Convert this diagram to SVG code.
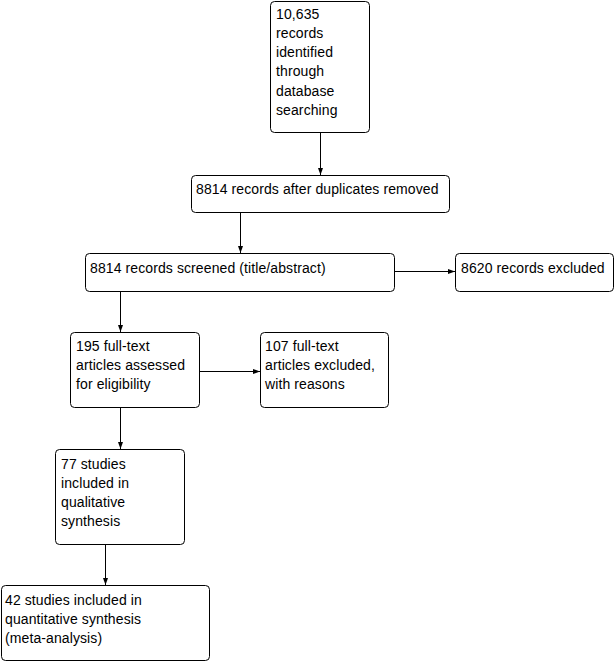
<svg xmlns="http://www.w3.org/2000/svg" width="615" height="662" viewBox="0 0 615 662">
<style>
.b{fill:#fff;stroke:#000;stroke-width:1}
.t{font-family:"Liberation Sans",Arial,sans-serif;font-size:14px;letter-spacing:0.1px;fill:#000}
.c{stroke:#000;stroke-width:1;fill:none;marker-end:url(#ah)}
</style>
<defs>
<marker id="ah" markerWidth="7" markerHeight="6" refX="7" refY="3" orient="auto" markerUnits="userSpaceOnUse">
<path d="M0,0.5 L7,3 L0,5.5 Z" fill="#000"/>
</marker>
</defs>
<rect width="615" height="662" fill="#fff"/>
<g id="connectors">
<line class="c" x1="320.5" y1="132" x2="320.5" y2="175"/>
<line class="c" x1="240.5" y1="212" x2="240.5" y2="253"/>
<line class="c" x1="395" y1="271.5" x2="455" y2="271.5"/>
<line class="c" x1="120.5" y1="291" x2="120.5" y2="332"/>
<line class="c" x1="200" y1="371.5" x2="260" y2="371.5"/>
<line class="c" x1="120.5" y1="407" x2="120.5" y2="449"/>
<line class="c" x1="105.5" y1="544" x2="105.5" y2="585"/>
</g>
<g id="n1">
<rect class="b" x="270.5" y="1.5" width="99" height="131" rx="4"/>
<text class="t" x="276" y="19">10,635</text>
<text class="t" x="276" y="38">records</text>
<text class="t" x="276" y="57">identified</text>
<text class="t" x="276" y="76">through</text>
<text class="t" x="276" y="96">database</text>
<text class="t" x="276" y="115">searching</text>
</g>
<g id="n2">
<rect class="b" x="191.5" y="175.5" width="258" height="37" rx="4"/>
<text class="t" x="196" y="194">8814 records after duplicates removed</text>
</g>
<g id="n3">
<rect class="b" x="85.5" y="253.5" width="309" height="38" rx="4"/>
<text class="t" x="90" y="273">8814 records screened (title/abstract)</text>
</g>
<g id="n4">
<rect class="b" x="455.5" y="253.5" width="158" height="38" rx="4"/>
<text class="t" x="461" y="273">8620 records excluded</text>
</g>
<g id="n5">
<rect class="b" x="70.5" y="332.5" width="129" height="75" rx="4"/>
<text class="t" x="76" y="351">195 full-text</text>
<text class="t" x="76" y="370">articles assessed</text>
<text class="t" x="76" y="389">for eligibility</text>
</g>
<g id="n6">
<rect class="b" x="260.5" y="332.5" width="128" height="75" rx="4"/>
<text class="t" x="265" y="351">107 full-text</text>
<text class="t" x="265" y="370">articles excluded,</text>
<text class="t" x="265" y="389">with reasons</text>
</g>
<g id="n7">
<rect class="b" x="55.5" y="449.5" width="129" height="95" rx="4"/>
<text class="t" x="61" y="469">77 studies</text>
<text class="t" x="61" y="488">included in</text>
<text class="t" x="61" y="507">qualitative</text>
<text class="t" x="61" y="526">synthesis</text>
</g>
<g id="n8">
<rect class="b" x="1.5" y="585.5" width="208" height="75" rx="4"/>
<text class="t" x="5" y="605">42 studies included in</text>
<text class="t" x="5" y="624">quantitative synthesis</text>
<text class="t" x="5" y="643">(meta-analysis)</text>
</g>
</svg>
